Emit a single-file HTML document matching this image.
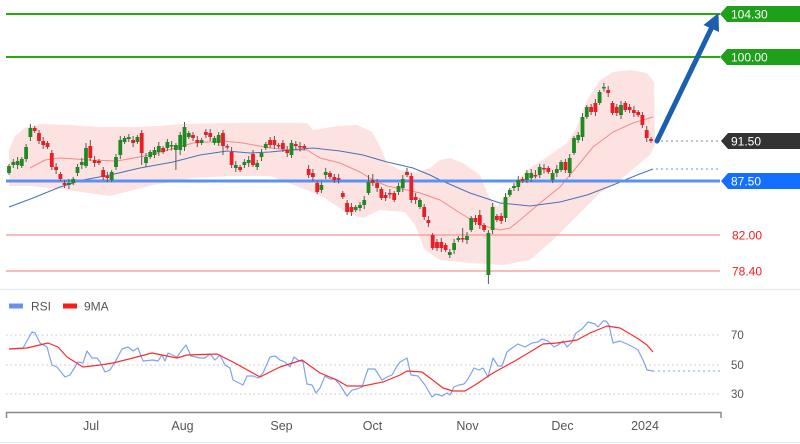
<!DOCTYPE html>
<html><head><meta charset="utf-8"><style>
html,body{margin:0;padding:0;background:#fff;}
svg{display:block;font-family:"Liberation Sans",sans-serif;}
</style></head><body>
<svg id="c" width="800" height="444" viewBox="0 0 800 444" xmlns="http://www.w3.org/2000/svg">
<rect width="800" height="444" fill="#fff"/>
<line x1="0" y1="289.5" x2="800" y2="289.5" stroke="#e6eaef" stroke-width="1.5"/>
<line x1="0" y1="442.5" x2="800" y2="442.5" stroke="#e6eaef" stroke-width="1.5"/>
<!-- Bollinger band -->
<polygon fill="#fde2e2" points="9,150 15,136 25,128 40,124 70,125 100,127 130,127 160,126 180,124 230,123 307,123 313,130 325,128 337,126 357,125 372,132 380,146 387,163 400,170 415,172 430,168 440,160 450,158 463,163 480,175 488,195 497,207 507,193 527,170 547,157 567,143 577,127 587,100 600,80 613,72 630,70 647,73 654,82 655,145 650,155 620,180 600,193 573,220 553,240 530,260 503,265 470,263 440,260 425,250 415,225 405,212 380,210 363,218 347,213 323,197 307,190 270,176 230,176 193,178 153,185 110,196 60,189 30,186 9,186"/>
<!-- horizontal levels -->
<line x1="6" y1="14" x2="720" y2="14" stroke="#2aa812" stroke-width="2"/>
<line x1="6" y1="57" x2="720" y2="57" stroke="#2aa812" stroke-width="2"/>
<line x1="6" y1="235" x2="720" y2="235" stroke="#f39494" stroke-width="1.3"/>
<line x1="6" y1="271" x2="720" y2="271" stroke="#f39494" stroke-width="1.3"/>
<!-- moving averages -->
<polyline fill="none" stroke="#f48a8a" stroke-width="1" points="30,168 45,160 60,158 90,160 117,161 150,155 193,143 223,141 243,143 270,148 290,150 307,150 320,158 340,163 360,172 373,180 387,186 407,190 420,193 440,200 460,213 480,225 500,230 510,228 520,220 540,203 560,187 580,163 593,147 613,132 633,123 653,117"/>
<polyline fill="none" stroke="#4a72b8" stroke-width="1" points="9,207 33,198 60,187 83,180 110,175 140,168 173,162 200,155 227,151 250,153 270,152 290,150 313,148 340,151 363,155 387,162 413,168 430,175 440,180 470,193 500,203 530,206 560,202 587,195 613,185 637,175 653,169"/>
<line x1="656" y1="169" x2="720" y2="169" stroke="#6a8fd8" stroke-width="1" stroke-dasharray="2,3"/>
<line x1="656" y1="141" x2="720" y2="141" stroke="#888" stroke-width="1" stroke-dasharray="2,3"/>
<line x1="6" y1="181" x2="720" y2="181" stroke="#5b91f5" stroke-width="3"/>
<g id="candles"></g>
<!-- arrow -->
<line x1="657" y1="141" x2="711" y2="29" stroke="#1b5fae" stroke-width="5" stroke-linecap="round"/>
<polygon fill="#1b5fae" points="718.5,13 703.5,25 719,32"/>
<!-- right labels -->
<path d="M720,14 L727,6 L800,6 L800,22 L727,22 Z" fill="#1ea01a"/>
<text x="731" y="18.5" font-size="12" fill="#fff">104.30</text>
<path d="M720,57 L727,49 L800,49 L800,65 L727,65 Z" fill="#1ea01a"/>
<text x="731" y="61.5" font-size="12" fill="#fff">100.00</text>
<path d="M721,141 L728,133 L800,133 L800,149 L728,149 Z" fill="#333"/>
<text x="731" y="145.5" font-size="12" fill="#fff">91.50</text>
<path d="M721,181 L728,173 L800,173 L800,189 L728,189 Z" fill="#146eff"/>
<text x="731" y="185.5" font-size="12" fill="#fff">87.50</text>
<text x="732" y="239.5" font-size="12" fill="#ff1a1a">82.00</text>
<text x="732" y="275.5" font-size="12" fill="#ff1a1a">78.40</text>
<!-- RSI pane -->
<rect x="9" y="303.5" width="14" height="5" fill="#6b8ff0"/>
<text x="31" y="310.5" font-size="12" fill="#555">RSI</text>
<rect x="63" y="303.5" width="14" height="5" fill="#ff1a1a"/>
<text x="84" y="310.5" font-size="12" fill="#555">9MA</text>
<g stroke="#c4c4c4" stroke-width="1" stroke-dasharray="1.5,3">
<line x1="6" y1="335" x2="720" y2="335"/>
<line x1="6" y1="365" x2="720" y2="365"/>
<line x1="6" y1="394" x2="720" y2="394"/>
</g>
<text x="731" y="339" font-size="11.5" fill="#555">70</text>
<text x="731" y="369" font-size="11.5" fill="#555">50</text>
<text x="731" y="398" font-size="11.5" fill="#555">30</text>
<polyline fill="none" stroke="#7fa2f2" stroke-width="1.2" stroke-linejoin="round" points="9,349 23,348 32,332 35,333 40,343 47,347 52,365 57,367 65,377 70,375 78,362 83,363 87,351 92,358 97,358 100,362 105,372 110,370 115,362 122,349 128,347 133,351 138,348 143,361 153,360 158,361 162,355 165,361 168,353 177,357 182,350 186,345 191,356 200,358 205,358 210,354 215,360 220,355 225,365 230,368 233,380 237,382 243,385 247,376 253,376 258,378 263,373 270,357 275,356 280,360 285,362 290,367 294,357 298,360 303,362 307,384 312,385 316,393 320,388 325,376 330,379 335,379 340,385 347,396 352,390 357,389 362,387 368,369 375,369 382,380 387,377 392,375 397,366 400,362 407,358 411,375 418,376 425,385 432,397 436,394 442,396 447,393 450,395 454,387 459,385 464,384 468,379 474,368 479,370 483,368 488,377 493,358 498,366 502,366 507,352 512,348 518,344 525,347 532,343 538,342 542,339 548,341 554,347 558,345 563,341 567,347 572,342 576,333 582,329 588,322 595,324 598,327 603,321 606,321 609,325 613,343 620,341 627,344 633,347 638,350 643,360 647,370 653,371"/>
<line x1="653" y1="371" x2="720" y2="371" stroke="#7fa2f2" stroke-width="1" stroke-dasharray="2,3"/>
<polyline fill="none" stroke="#ff2a2a" stroke-width="1.2" stroke-linejoin="round" points="9,349 27,348 48,343 58,347 67,357 83,367 100,365 113,363 133,358 152,353 177,358 187,355 217,354 233,362 260,377 280,367 302,360 320,373 337,380 347,386 363,386 383,382 400,375 407,371 422,372 430,378 443,388 453,391 465,391 475,385 493,373 513,362 530,352 543,344 557,343 577,340 590,333 607,326 620,328 637,338 647,345 653,352"/>
<!-- x axis -->
<path d="M6.5,418 L6.5,412.5 L721,412.5 L721,418" fill="none" stroke="#8a8a8a" stroke-width="1.5"/>
<g font-size="12.5" fill="#555" text-anchor="middle">
<text x="91" y="430">Jul</text>
<text x="182.5" y="430">Aug</text>
<text x="281.5" y="430">Sep</text>
<text x="372.5" y="430">Oct</text>
<text x="467.5" y="430">Nov</text>
<text x="562.5" y="430">Dec</text>
<text x="645" y="430">2024</text>
</g>
</svg>
<script>
(function(){
var C=[[173,166],[165,162],[165,161],[166,159],[159,147],[137,128],[128,131],[133,141],[141,145],[143,147],
[153,167,150],[167,170],[174,179],[183,185],[185,183],[183,179],[173,167],[165,162],[166,148,143],[146,158,140],
[160,163],[161,163],[170,177],[176,178],[180,172],[167,157],[155,140],[142,138],[139,137],[140,143],
[142,137],[133,153,130,165],[163,157],[157,152],[155,150],[152,146],[148,152],[148,142],[146,145],[150,145,143,170],
[150,135,132,155],[147,127,122],[137,133],[135,138],[140,143],[143,140],[132,135],[133,137],[143,138],[143,135],
[133,146,130,155],[146,147],[152,165,147],[168,165],[167,170],[165,162],[163,160],[154,165,150],[167,163],[157,153],
[148,144],[140,145],[140,145],[145,146],[143,149],[150,153],[155,143,140,158],[144,146],[146,147],[146,148],
[169,175,165],[173,177],[183,192],[190,185],[175,172],[173,177],[177,180],[178,179],[193,197],[203,212],
[207,212],[210,207],[208,205],[205,200],[193,182,175],[180,183,174],[183,188],[189,198],[195,198],[193,194],
[193,200],[192,186],[188,179],[172,175,168],[176,200],[197,200],[207,200],[207,217],[220,223],[235,248],
[242,248],[242,248],[245,250],[255,252],[250,243],[240,238],[238,238,228],[240,236],[230,218],[218,222],
[215,225,210],[225,230],[275,233,230,284],[230,207],[216,220],[216,221],[218,197],[195,190],[188,186],[187,180],
[179,181],[180,173],[178,173],[175,175,170],[175,167],[168,168],[168,172],[180,173],[173,169],[170,162],
[162,170],[173,158],[153,138],[140,135],[137,117],[117,107],[107,112],[103,112],[103,92],[88,87,83],
[90,93],[103,113],[107,113],[115,105],[103,110],[107,110],[110,113],[112,115],[115,125],[130,138],[139,141]];
var s='';
for(var i=0;i<C.length;i++){
 var d=C[i],x=9+i*4.28,o=d[0],c=d[1];
 var t=Math.min(o,c),b=Math.max(o,c);
 if(b-t<1.5){b=t+1.5;}
 var w=2+((i*7)%3);
 var hi=(d[2]!==undefined)?d[2]:t-w;
 var lo=(d[3]!==undefined)?d[3]:b+w;
 var g=c<o;
 var col=g?'#1f8a22':'#ec1c24';
 s+='<line x1="'+x.toFixed(1)+'" y1="'+hi+'" x2="'+x.toFixed(1)+'" y2="'+lo+'" stroke="#5a5a5a" stroke-width="1"/>';
 s+='<rect x="'+(x-1.9).toFixed(1)+'" y="'+t+'" width="3.8" height="'+(b-t)+'" fill="'+col+'"/>';
}
document.getElementById('candles').innerHTML=s;
})();
</script>
</body></html>
